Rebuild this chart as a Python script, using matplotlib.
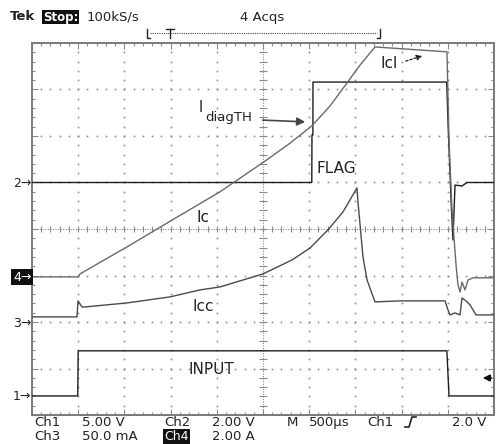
import numpy as np
import matplotlib
matplotlib.use("Agg")
import matplotlib.pyplot as plt
from matplotlib.ticker import MultipleLocator

# ---------------- data ----------------
time_per_div_us = 500
n_hdiv, n_vdiv = 10, 8

# volts / amps per division and reference level (divisions from screen centre)
ch1_scale, ch1_ref = 5.0, -3.59    # INPUT  (V)
ch2_scale, ch2_ref = 2.0, 1.0      # FLAG   (V)
ch3_scale, ch3_ref = 50.0, -2.02   # Icc    (mA)
ch4_scale, ch4_ref = 2.0, -1.03    # Ic     (A)

input_t = [0, 495, 500, 4490, 4513, 5000]
input_v = [0, 0, 4.85, 4.85, 0, 0]

flag_t = [0, 3028, 3030, 3040, 3041, 4488, 4505, 4535, 4556, 4578, 4654, 4708, 5000]
flag_v = [0, 0, 2.05, 2.05, 4.32, 4.32, 2.3, -0.75, -2.47, -0.11, -0.15, 0, 0]

ic_t = [0, 498, 520, 1028, 1353, 2035, 2175, 2511, 2792, 3030, 3225, 3409,
        3550, 3712, 4491, 4513, 4545, 4589, 4610, 4632, 4654, 4686, 4719, 4773, 5000]
ic_a = [0, 0, 0.13, 1.29, 2.06, 3.66, 4.04, 4.95, 5.75, 6.50, 7.35, 8.34,
        9.11, 9.89, 9.68, 5.89, 2.88, 0.52, -0.34, -0.65, -0.22, -0.56, -0.13, -0.04, -0.04]

icc_t = [0, 487, 498, 541, 574, 1028, 1494, 1818, 2035, 2500, 2814, 3009, 3203,
         3366, 3517, 3528, 3582, 3626, 3712, 3983, 4470, 4502, 4524, 4578, 4632,
         4654, 4697, 4740, 4773, 4805, 5000]
icc_ma = [6.5, 6.5, 23.7, 17.2, 17.2, 21.5, 28.0, 35.5, 38.7, 52.7, 67.7, 80.6, 100.0,
          119.4, 145.2, 130.0, 71.0, 46.2, 22.6, 23.7, 23.7, 14.0, 8.6, 10.8, 8.6,
          26.9, 23.7, 19.4, 14.0, 8.6, 8.6]

trace_labels = ["INPUT", "FLAG", "Ic", "Icc"]

# ---------------- figure ----------------
W, H = 496, 444
fig = plt.figure(figsize=(W / 100, H / 100), dpi=100)
fig.patch.set_facecolor("white")
FONT = "DejaVu Sans"

L, R, T, B = 32, 494, 43, 415
ax = fig.add_axes([L / W, 1 - B / H, (R - L) / W, (B - T) / H])
ax.set_xlim(0, n_hdiv * time_per_div_us)
ax.set_ylim(-n_vdiv / 2, n_vdiv / 2)
ax.set_facecolor("white")

gcol = "#8a8a8a"
# grid dots
for k in range(1, n_hdiv):
    if k == n_hdiv // 2:
        continue
    ys = np.arange(-19, 20) / 5
    ax.plot(np.full_like(ys, k * time_per_div_us), ys, ls="none", marker="s",
            ms=1.2, mew=0, color=gcol, zorder=1)
for m in range(-3, 4):
    if m == 0:
        continue
    xs = np.arange(1, 50) * time_per_div_us / 5
    ax.plot(xs, np.full_like(xs, m, dtype=float), ls="none", marker="s",
            ms=1.2, mew=0, color=gcol, zorder=1)
# centre cross
ax.plot([0, 5000], [0, 0], ls=(0, (1, 1.3)), lw=0.8, color=gcol, zorder=1)
ax.plot([2500, 2500], [-4, 4], ls=(0, (1, 1.3)), lw=0.8, color=gcol, zorder=1)
xs = np.arange(1, 50) * 100
ax.vlines(xs, -0.06, 0.06, lw=0.8, color=gcol, zorder=1)
ys = np.arange(-19, 20) / 5
ax.hlines(ys, 2500 - 45, 2500 + 45, lw=0.8, color=gcol, zorder=1)

ax.xaxis.set_major_locator(MultipleLocator(500))
ax.xaxis.set_minor_locator(MultipleLocator(100))
ax.yaxis.set_major_locator(MultipleLocator(1))
ax.yaxis.set_minor_locator(MultipleLocator(0.2))
ax.tick_params(which="both", direction="in", top=True, right=True,
               labelbottom=False, labelleft=False, color=gcol, width=0.8)
ax.tick_params(which="major", length=4)
ax.tick_params(which="minor", length=2.5)
for s in ax.spines.values():
    s.set_color("#7a7a7a")
    s.set_linewidth(1.4)

# traces
ax.plot(input_t, ch1_ref + np.array(input_v) / ch1_scale, color="#1e1e1e", lw=1.0, zorder=3)
ax.plot(flag_t, ch2_ref + np.array(flag_v) / ch2_scale, color="#1e1e1e", lw=1.0, zorder=3)
ax.plot(icc_t, ch3_ref + np.array(icc_ma) / ch3_scale, color="#4a4a4a", lw=1.0, zorder=3)
ax.plot(ic_t, ch4_ref + np.array(ic_a) / ch4_scale, color="#6a6a6a", lw=1.0, zorder=3)

# ---------------- overlay (pixel coordinates) ----------------
ov = fig.add_axes([0, 0, 1, 1], facecolor="none")
ov.set_xlim(0, W)
ov.set_ylim(H, 0)
ov.axis("off")

def t(x, y, s, size=9, color="#222", **kw):
    ov.text(x, y, s, fontsize=size, color=color, family=FONT, va="center", ha="left", **kw)

# header
t(10, 17, "Tek", 9.5, weight="bold")
t(43, 17, "Stop:", 8.5, color="white", weight="bold",
  bbox=dict(boxstyle="square,pad=0.08", fc="#111", ec="none"))
t(87, 17, "100kS/s", 9.5)
t(240, 17, "4 Acqs", 9.5)
# trigger bracket
ov.plot([147, 147, 150], [29, 38, 38], color="#222", lw=1.0)
ov.plot([150, 377], [33, 33], color="#444", lw=0.8, ls=(0, (1, 1)))
ov.plot([377, 380, 380], [38, 38, 29], color="#222", lw=1.0)
ov.plot([166, 174], [29, 29], color="#222", lw=1.0)
ov.plot([170, 170], [29, 38], color="#222", lw=1.0)

# channel markers
t(13, 183, "2\u2192", 9)
t(13, 277, "4\u2192", 9, color="white", bbox=dict(boxstyle="square,pad=0.15", fc="#111", ec="none"))
t(13, 323, "3\u2192", 9)
t(13, 396, "1\u2192", 9)
ov.annotate("", xy=(480, 378), xytext=(494, 378),
            arrowprops=dict(arrowstyle="-|>", color="#111", lw=1.2, mutation_scale=10))

# trace labels
t(317, 168, trace_labels[1], 11)
t(189, 369, trace_labels[0], 11)
t(196, 217, trace_labels[2], 11)
t(192, 306, trace_labels[3], 11)
t(381, 64, "Icl", 11)
ov.annotate("", xy=(425, 55), xytext=(403, 62),
            arrowprops=dict(arrowstyle="-|>", color="#222", lw=0.9, ls=(0, (2, 1.5)),
                            mutation_scale=8))
t(199, 107, "I", 10.5)
t(205, 117, "diagTH", 9.5)
ov.annotate("", xy=(308, 122), xytext=(260, 120),
            arrowprops=dict(arrowstyle="-|>", color="#444", lw=1.2, mutation_scale=12))

# bottom status lines
y1, y2 = 422, 436
t(34, y1, "Ch1", 9.5)
t(82, y1, "5.00 V", 9.5)
t(164, y1, "Ch2", 9.5)
t(212, y1, "2.00 V", 9.5)
t(287, y1, "M", 9.5)
t(309, y1, "500\u00b5s", 9.5)
t(367, y1, "Ch1", 9.5)
ov.plot([405, 409, 412, 416], [427, 427, 417, 417], color="#222", lw=1.2)
t(452, y1, "2.0 V", 9.5)
t(34, y2, "Ch3", 9.5)
t(82, y2, "50.0 mA", 9.5)
t(164, y2, "Ch4", 9, color="white", bbox=dict(boxstyle="square,pad=0.08", fc="#111", ec="none"))
t(212, y2, "2.00 A", 9.5)

fig.savefig("out.png", dpi=100, facecolor="white")
